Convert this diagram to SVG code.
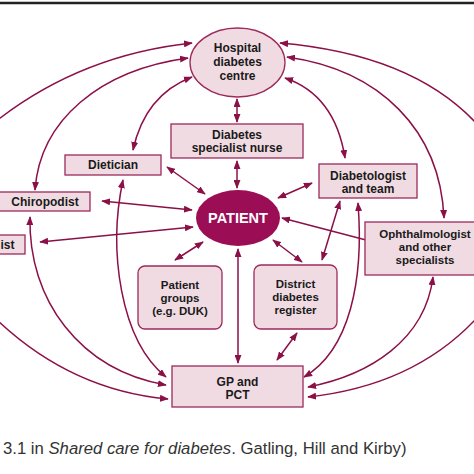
<svg xmlns="http://www.w3.org/2000/svg" width="474" height="474" viewBox="0 0 474 474">
<defs>
<marker id="ah" viewBox="0 0 10 10" refX="9" refY="5" markerWidth="9" markerHeight="7" markerUnits="userSpaceOnUse" orient="auto-start-reverse" preserveAspectRatio="none">
<path d="M0,0 L10,5 L0,10 Z" fill="#8c1048"/>
</marker>
<style>
.n{fill:#f1dbe2;stroke:#9c2a5c;stroke-width:1.3}
.t{font-family:"Liberation Sans",Arial,sans-serif;font-weight:bold;font-size:12px;fill:#1a1a1a;text-anchor:middle}
.t3{font-size:11.5px}
.c path,.c line{fill:none;stroke:#8c1048;stroke-width:1.5}
.d{marker-start:url(#ah);marker-end:url(#ah)}
.s{marker-end:url(#ah)}
.cap{font-family:"Liberation Sans",Arial,sans-serif;font-size:16.7px;fill:#333}
</style>
</defs>
<rect width="474" height="474" fill="#fff"/>
<line x1="0" y1="3" x2="474" y2="3" stroke="#222" stroke-width="2.5"/>

<g class="c" id="connectors">
<line class="d" x1="237" y1="99" x2="237" y2="122"/>
<line class="d" x1="237" y1="161" x2="237" y2="188"/>
<line class="d" x1="167" y1="167" x2="205" y2="194"/>
<line class="d" x1="102" y1="201" x2="192" y2="210"/>
<line class="d" x1="40" y1="242" x2="193" y2="227"/>
<line class="d" x1="312" y1="183" x2="278" y2="198"/>
<line class="s" x1="366" y1="240" x2="282" y2="218"/>
<line class="d" x1="203" y1="242" x2="175" y2="260"/>
<line class="d" x1="273" y1="240" x2="302" y2="262"/>
<line class="d" x1="238" y1="249" x2="238" y2="363"/>
<line class="d" x1="297" y1="333" x2="277" y2="360"/>
<line class="d" x1="340" y1="201" x2="322" y2="260"/>
<path class="s" d="M -5,122 Q 80,55 192,43"/>
<path class="d" d="M 35,190 C 40,120 100,70 188,58"/>
<path class="d" d="M 133,150 Q 145,95 192,77"/>
<path class="s" d="M 484,132 Q 420,55 280,43"/>
<path class="d" d="M 444,218 C 440,130 380,70 287,57"/>
<path class="d" d="M 345,158 Q 335,95 285,78"/>
<path class="d" d="M 123,180 C 108,250 120,340 166,377"/>
<path class="d" d="M 30,217 C 28,300 80,370 166,385"/>
<path class="s" d="M -5,318 Q 70,390 168,399"/>
<path class="d" d="M 358,203 C 364,280 350,350 304,377"/>
<path class="d" d="M 433,277 C 425,340 370,375 308,387"/>
<path class="s" d="M 484,310 Q 420,385 308,397"/>
</g>

<g id="hospital">
<ellipse class="n" cx="237.5" cy="62.5" rx="47.5" ry="34.5"/>
<text class="t" x="237.5" y="52">Hospital</text>
<text class="t" x="237.5" y="66">diabetes</text>
<text class="t" x="237.5" y="80">centre</text>
</g>
<g id="nurse">
<rect class="n" x="171" y="124" width="132" height="34"/>
<text class="t" x="237" y="139">Diabetes</text>
<text class="t" x="237" y="152">specialist nurse</text>
</g>
<g id="dietician">
<rect class="n" x="65" y="155" width="96" height="20"/>
<text class="t" x="113" y="169">Dietician</text>
</g>
<g id="chiropodist">
<rect class="n" x="-2" y="192" width="92" height="19"/>
<text class="t" x="45" y="206">Chiropodist</text>
</g>
<g id="ist">
<rect class="n" x="-5" y="235" width="30" height="19"/>
<text class="t" x="14.5" y="249" style="text-anchor:end">ist</text>
</g>
<g id="diabetologist">
<rect class="n" x="319" y="164" width="98" height="34"/>
<text class="t" x="368" y="180">Diabetologist</text>
<text class="t" x="368" y="193">and team</text>
</g>
<g id="patient">
<ellipse cx="238" cy="218" rx="42" ry="28" fill="#9b0d55"/>
<text class="t" x="238" y="223" style="fill:#fff;font-size:14.5px">PATIENT</text>
</g>
<g id="ophthalmologist">
<rect class="n" x="365" y="222" width="122" height="53"/>
<text class="t t3" x="425" y="238">Ophthalmologist</text>
<text class="t t3" x="425" y="251">and other</text>
<text class="t t3" x="425" y="264">specialists</text>
</g>
<g id="patient-groups">
<rect class="n" x="138" y="266" width="84" height="63" rx="7"/>
<text class="t t3" x="180" y="289">Patient</text>
<text class="t t3" x="180" y="302">groups</text>
<text class="t t3" x="180" y="315">(e.g. DUK)</text>
</g>
<g id="district">
<rect class="n" x="254" y="265" width="83" height="64" rx="7"/>
<text class="t t3" x="295.5" y="288">District</text>
<text class="t t3" x="295.5" y="301">diabetes</text>
<text class="t t3" x="295.5" y="314">register</text>
</g>
<g id="gp">
<rect class="n" x="172" y="366" width="131" height="41"/>
<text class="t" x="237.5" y="386">GP and</text>
<text class="t" x="237.5" y="399">PCT</text>
</g>
<text class="cap" x="3" y="454">3.1 in <tspan font-style="italic">Shared care for diabetes</tspan>. Gatling, Hill and Kirby)</text>
</svg>
